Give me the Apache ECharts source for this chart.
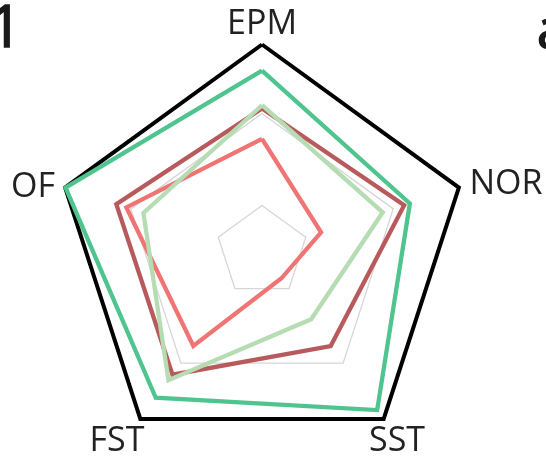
<!DOCTYPE html>
<html>
<head>
<meta charset="utf-8">
<script src="https://cdn.jsdelivr.net/npm/echarts@6/dist/echarts.min.js"></script>
<style>
html,body{margin:0;padding:0;background:#fff;}
#chart{width:546px;height:458px;}
</style>
</head>
<body>
<div id="chart"></div>
<script>
// Axis categories, in ECharts radar order (counter-clockwise from the top)
var categories = ['EPM', 'OF', 'FST', 'SST', 'NOR'];
var axisMax = 4.5;
// Series values in order EPM, OF, FST, SST, NOR
var darkRed    = [3.11, 3.33, 3.31, 2.54, 3.25];
var salmon     = [2.45, 3.10, 2.54, 0.72, 1.35];
var lightGreen = [3.18, 2.71, 3.46, 1.82, 2.76];
var green      = [3.93, 4.49, 3.93, 4.26, 3.38];

var CX = 262, CY = 251.5, R = 207;
var chart = echarts.init(document.getElementById('chart'), null, {renderer: 'canvas'});

var indicators = categories.map(function (c) { return {name: c, min: 0, max: axisMax}; });
var T = 'rgba(0,0,0,0)';
var grey = '#d6d6d6';

function ser(vals, color) {
  return {
    type: 'radar', radarIndex: 0, symbol: 'none', silent: true,
    lineStyle: {color: color, width: 4.3, join: 'miter', opacity: 1},
    data: [{value: vals}]
  };
}

function lbl(text, x, y) {
  return {type: 'text', x: x, y: y, silent: true,
    style: {text: text, fill: '#222', fontSize: 34, fontFamily: 'Open Sans', align: 'center', verticalAlign: 'middle'}};
}

// label offsets from the radar centre, same order as categories
var offs = [[0, -227.5], [-229, -64.5], [-145, 189.5], [135, 189.5], [244, -67.5]];
var graphics = [];
categories.forEach(function (c, i) {
  graphics.push(lbl(c, CX + offs[i][0], CY + offs[i][1]));
});
graphics.push({type: 'text', x: 22, y: 30, silent: true,
  style: {text: '1', fill: '#1a1a1a', stroke: '#1a1a1a', lineWidth: 1.6, fontSize: 58, fontFamily: 'Open Sans', align: 'right', verticalAlign: 'middle'}});
graphics.push({type: 'text', x: 537, y: 33, silent: true,
  style: {text: 'a', fill: '#1a1a1a', stroke: '#1a1a1a', lineWidth: 1.6, fontSize: 54, fontFamily: 'Open Sans', align: 'left', verticalAlign: 'middle'}});

var common = {
  center: [CX, CY], radius: R, startAngle: 90, shape: 'polygon',
  indicator: indicators,
  axisName: {show: false},
  axisLine: {show: false},
  axisTick: {show: false},
  axisLabel: {show: false},
  splitArea: {show: false}
};

chart.setOption({
  animation: false,
  backgroundColor: '#fff',
  radar: [
    Object.assign({}, common, {
      splitNumber: 9,
      splitLine: {show: true, lineStyle: {color: [T, T, grey, T, T, T, grey, T, T, T], width: 1.3}}
    }),
    Object.assign({}, common, {
      splitNumber: 1,
      splitLine: {show: true, lineStyle: {color: [T, '#000000'], width: 4, join: 'miter', miterLimit: 10}}
    })
  ],
  series: [
    ser(darkRed, '#b85a5c'),
    ser(salmon, '#f07474'),
    ser(lightGreen, '#b5dcb2'),
    ser(green, '#4fc48e')
  ],
  graphic: graphics
});
</script>
</body>
</html>
